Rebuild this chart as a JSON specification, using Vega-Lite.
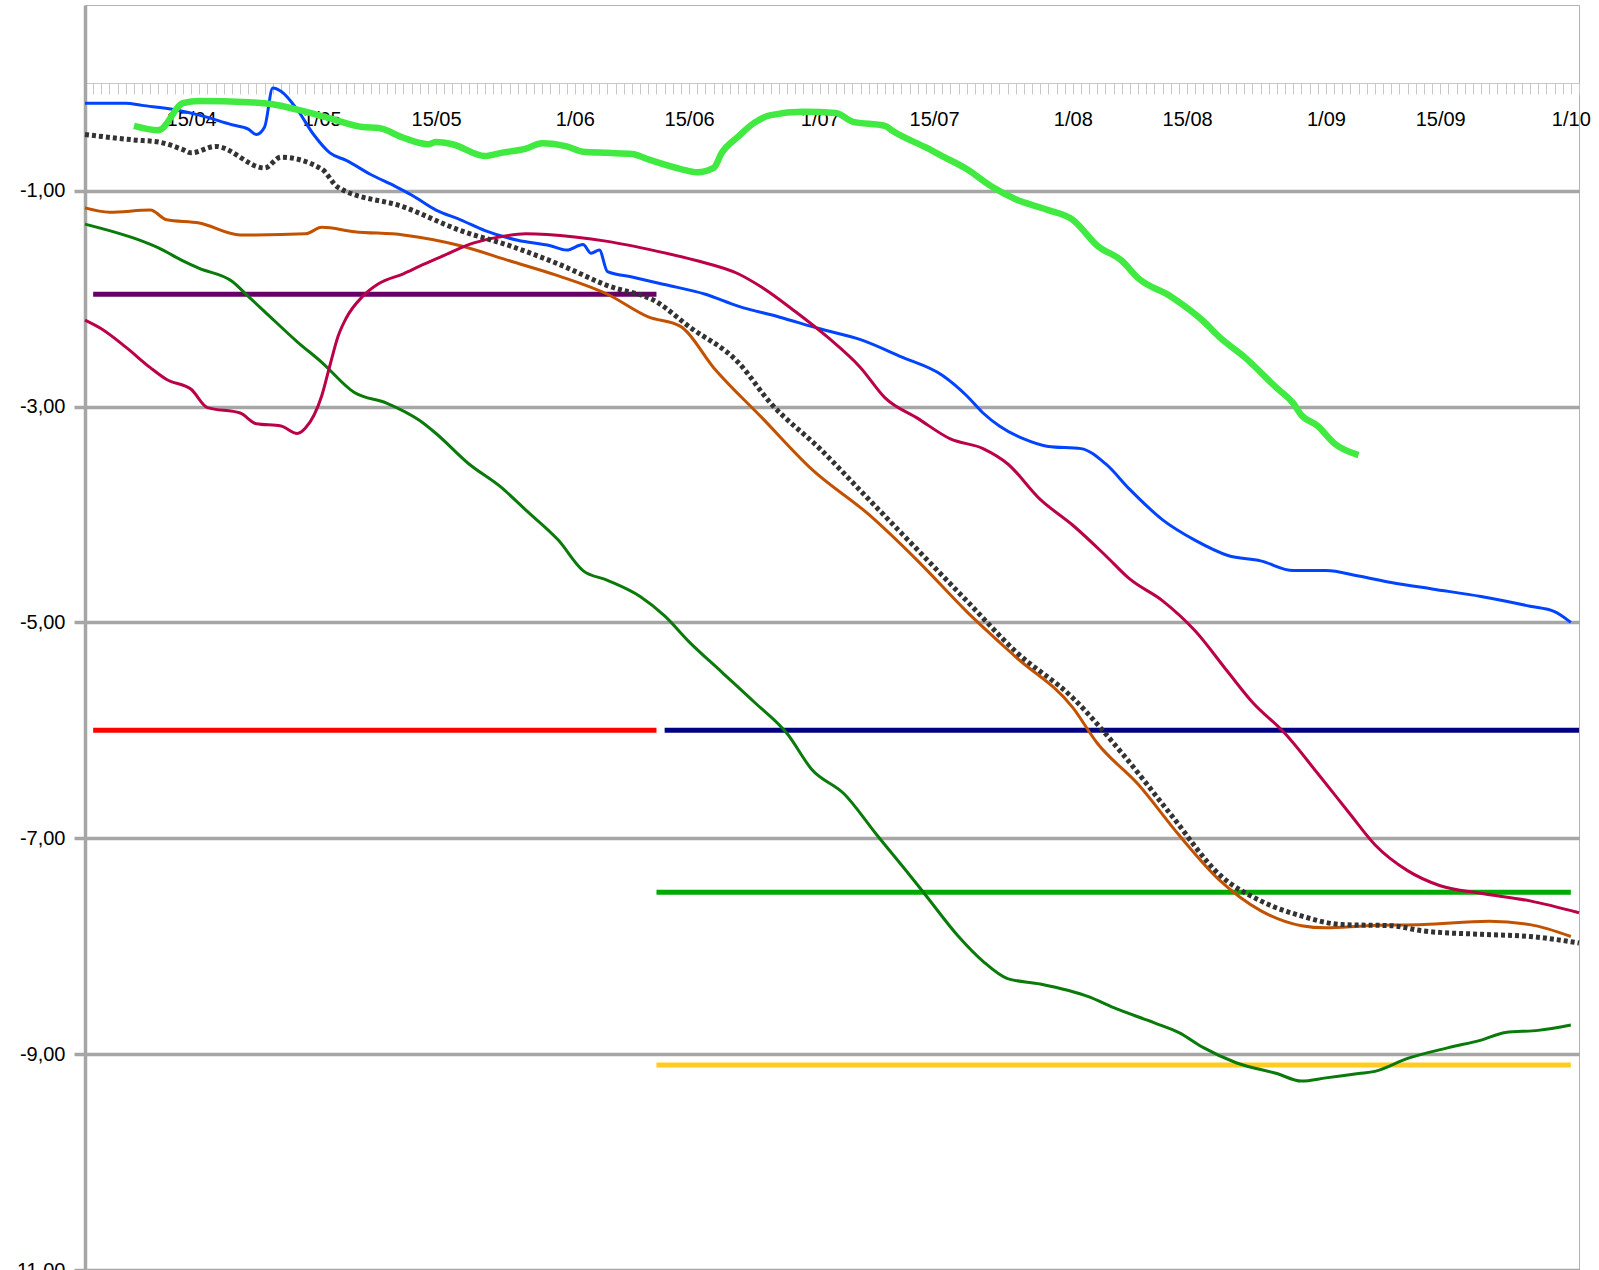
{
  "$schema": "https://vega.github.io/schema/vega-lite/v6.json",
  "width": 1494,
  "height": 1265,
  "autosize": {"type": "none"},
  "padding": {"left": 85, "top": 5, "right": 20, "bottom": 0},
  "background": "white",
  "config": {"view": {"stroke": "#b3b3b3", "strokeWidth": 1}, "font": "Liberation Sans"},
  "data": {"values": [
    {"series":"purple","date":"2023-04-03","date2":"2023-06-11","value":-1.96},
    {"series":"red","date":"2023-04-03","date2":"2023-06-11","value":-6.0},
    {"series":"navy","date":"2023-06-12","date2":"2023-10-02","value":-6.0},
    {"series":"green","date":"2023-06-11","date2":"2023-10-01","value":-7.5},
    {"series":"yellow","date":"2023-06-11","date2":"2023-10-01","value":-9.1},

    {"series":"blue","date":"2023-04-02","value":-0.19},
    {"series":"blue","date":"2023-04-07","value":-0.19},
    {"series":"blue","date":"2023-04-09","value":-0.21},
    {"series":"blue","date":"2023-04-13","value":-0.25},
    {"series":"blue","date":"2023-04-16","value":-0.30},
    {"series":"blue","date":"2023-04-20","value":-0.39},
    {"series":"blue","date":"2023-04-22","value":-0.43},
    {"series":"blue","date":"2023-04-23","value":-0.48},
    {"series":"blue","date":"2023-04-24","value":-0.41},
    {"series":"blue","date":"2023-04-25","value":-0.05},
    {"series":"blue","date":"2023-04-26","value":-0.08},
    {"series":"blue","date":"2023-04-28","value":-0.25},
    {"series":"blue","date":"2023-04-30","value":-0.48},
    {"series":"blue","date":"2023-05-02","value":-0.65},
    {"series":"blue","date":"2023-05-04","value":-0.72},
    {"series":"blue","date":"2023-05-07","value":-0.85},
    {"series":"blue","date":"2023-05-10","value":-0.96},
    {"series":"blue","date":"2023-05-12","value":-1.04},
    {"series":"blue","date":"2023-05-15","value":-1.18},
    {"series":"blue","date":"2023-05-18","value":-1.27},
    {"series":"blue","date":"2023-05-21","value":-1.37},
    {"series":"blue","date":"2023-05-25","value":-1.46},
    {"series":"blue","date":"2023-05-29","value":-1.51},
    {"series":"blue","date":"2023-05-31","value":-1.55},
    {"series":"blue","date":"2023-06-02","value":-1.50},
    {"series":"blue","date":"2023-06-03","value":-1.58},
    {"series":"blue","date":"2023-06-04","value":-1.55},
    {"series":"blue","date":"2023-06-05","value":-1.75},
    {"series":"blue","date":"2023-06-08","value":-1.80},
    {"series":"blue","date":"2023-06-12","value":-1.87},
    {"series":"blue","date":"2023-06-17","value":-1.96},
    {"series":"blue","date":"2023-06-21","value":-2.07},
    {"series":"blue","date":"2023-06-26","value":-2.17},
    {"series":"blue","date":"2023-07-01","value":-2.28},
    {"series":"blue","date":"2023-07-06","value":-2.38},
    {"series":"blue","date":"2023-07-11","value":-2.54},
    {"series":"blue","date":"2023-07-16","value":-2.71},
    {"series":"blue","date":"2023-07-19","value":-2.90},
    {"series":"blue","date":"2023-07-21","value":-3.06},
    {"series":"blue","date":"2023-07-23","value":-3.18},
    {"series":"blue","date":"2023-07-26","value":-3.30},
    {"series":"blue","date":"2023-07-29","value":-3.37},
    {"series":"blue","date":"2023-08-02","value":-3.39},
    {"series":"blue","date":"2023-08-05","value":-3.53},
    {"series":"blue","date":"2023-08-08","value":-3.77},
    {"series":"blue","date":"2023-08-12","value":-4.05},
    {"series":"blue","date":"2023-08-16","value":-4.24},
    {"series":"blue","date":"2023-08-20","value":-4.38},
    {"series":"blue","date":"2023-08-24","value":-4.43},
    {"series":"blue","date":"2023-08-28","value":-4.52},
    {"series":"blue","date":"2023-09-01","value":-4.52},
    {"series":"blue","date":"2023-09-05","value":-4.57},
    {"series":"blue","date":"2023-09-09","value":-4.63},
    {"series":"blue","date":"2023-09-14","value":-4.69},
    {"series":"blue","date":"2023-09-20","value":-4.76},
    {"series":"blue","date":"2023-09-26","value":-4.85},
    {"series":"blue","date":"2023-09-29","value":-4.90},
    {"series":"blue","date":"2023-10-01","value":-5.00},

    {"series":"lightgreen","date":"2023-04-08","value":-0.40},
    {"series":"lightgreen","date":"2023-04-11","value":-0.44},
    {"series":"lightgreen","date":"2023-04-14","value":-0.19},
    {"series":"lightgreen","date":"2023-04-16","value":-0.17},
    {"series":"lightgreen","date":"2023-04-22","value":-0.18},
    {"series":"lightgreen","date":"2023-04-25","value":-0.20},
    {"series":"lightgreen","date":"2023-04-28","value":-0.25},
    {"series":"lightgreen","date":"2023-05-02","value":-0.33},
    {"series":"lightgreen","date":"2023-05-06","value":-0.41},
    {"series":"lightgreen","date":"2023-05-08","value":-0.42},
    {"series":"lightgreen","date":"2023-05-11","value":-0.51},
    {"series":"lightgreen","date":"2023-05-14","value":-0.57},
    {"series":"lightgreen","date":"2023-05-15","value":-0.55},
    {"series":"lightgreen","date":"2023-05-17","value":-0.57},
    {"series":"lightgreen","date":"2023-05-21","value":-0.68},
    {"series":"lightgreen","date":"2023-05-23","value":-0.65},
    {"series":"lightgreen","date":"2023-05-26","value":-0.61},
    {"series":"lightgreen","date":"2023-05-28","value":-0.56},
    {"series":"lightgreen","date":"2023-05-31","value":-0.59},
    {"series":"lightgreen","date":"2023-06-02","value":-0.64},
    {"series":"lightgreen","date":"2023-06-05","value":-0.65},
    {"series":"lightgreen","date":"2023-06-08","value":-0.66},
    {"series":"lightgreen","date":"2023-06-10","value":-0.71},
    {"series":"lightgreen","date":"2023-06-14","value":-0.80},
    {"series":"lightgreen","date":"2023-06-16","value":-0.83},
    {"series":"lightgreen","date":"2023-06-18","value":-0.79},
    {"series":"lightgreen","date":"2023-06-19","value":-0.65},
    {"series":"lightgreen","date":"2023-06-21","value":-0.50},
    {"series":"lightgreen","date":"2023-06-23","value":-0.37},
    {"series":"lightgreen","date":"2023-06-25","value":-0.30},
    {"series":"lightgreen","date":"2023-06-29","value":-0.27},
    {"series":"lightgreen","date":"2023-07-03","value":-0.28},
    {"series":"lightgreen","date":"2023-07-05","value":-0.36},
    {"series":"lightgreen","date":"2023-07-09","value":-0.40},
    {"series":"lightgreen","date":"2023-07-10","value":-0.45},
    {"series":"lightgreen","date":"2023-07-14","value":-0.60},
    {"series":"lightgreen","date":"2023-07-16","value":-0.68},
    {"series":"lightgreen","date":"2023-07-19","value":-0.80},
    {"series":"lightgreen","date":"2023-07-22","value":-0.96},
    {"series":"lightgreen","date":"2023-07-25","value":-1.08},
    {"series":"lightgreen","date":"2023-07-29","value":-1.18},
    {"series":"lightgreen","date":"2023-08-01","value":-1.27},
    {"series":"lightgreen","date":"2023-08-04","value":-1.51},
    {"series":"lightgreen","date":"2023-08-07","value":-1.65},
    {"series":"lightgreen","date":"2023-08-09","value":-1.81},
    {"series":"lightgreen","date":"2023-08-13","value":-1.98},
    {"series":"lightgreen","date":"2023-08-17","value":-2.21},
    {"series":"lightgreen","date":"2023-08-19","value":-2.36},
    {"series":"lightgreen","date":"2023-08-22","value":-2.54},
    {"series":"lightgreen","date":"2023-08-26","value":-2.83},
    {"series":"lightgreen","date":"2023-08-28","value":-2.97},
    {"series":"lightgreen","date":"2023-08-29","value":-3.08},
    {"series":"lightgreen","date":"2023-08-31","value":-3.18},
    {"series":"lightgreen","date":"2023-09-02","value":-3.34},
    {"series":"lightgreen","date":"2023-09-05","value":-3.45},

    {"series":"black","date":"2023-04-02","value":-0.48},
    {"series":"black","date":"2023-04-08","value":-0.53},
    {"series":"black","date":"2023-04-11","value":-0.55},
    {"series":"black","date":"2023-04-14","value":-0.62},
    {"series":"black","date":"2023-04-15","value":-0.65},
    {"series":"black","date":"2023-04-18","value":-0.59},
    {"series":"black","date":"2023-04-24","value":-0.79},
    {"series":"black","date":"2023-04-26","value":-0.69},
    {"series":"black","date":"2023-05-01","value":-0.80},
    {"series":"black","date":"2023-05-03","value":-0.97},
    {"series":"black","date":"2023-05-11","value":-1.15},
    {"series":"black","date":"2023-05-18","value":-1.37},
    {"series":"black","date":"2023-05-24","value":-1.51},
    {"series":"black","date":"2023-05-30","value":-1.68},
    {"series":"black","date":"2023-06-05","value":-1.88},
    {"series":"black","date":"2023-06-11","value":-2.03},
    {"series":"black","date":"2023-06-15","value":-2.26},
    {"series":"black","date":"2023-06-21","value":-2.59},
    {"series":"black","date":"2023-06-25","value":-2.97},
    {"series":"black","date":"2023-07-01","value":-3.39},
    {"series":"black","date":"2023-07-07","value":-3.86},
    {"series":"black","date":"2023-07-13","value":-4.33},
    {"series":"black","date":"2023-07-19","value":-4.80},
    {"series":"black","date":"2023-07-25","value":-5.27},
    {"series":"black","date":"2023-08-01","value":-5.70},
    {"series":"black","date":"2023-08-07","value":-6.21},
    {"series":"black","date":"2023-08-13","value":-6.78},
    {"series":"black","date":"2023-08-19","value":-7.34},
    {"series":"black","date":"2023-08-24","value":-7.58},
    {"series":"black","date":"2023-08-29","value":-7.72},
    {"series":"black","date":"2023-09-03","value":-7.80},
    {"series":"black","date":"2023-09-09","value":-7.81},
    {"series":"black","date":"2023-09-13","value":-7.86},
    {"series":"black","date":"2023-09-20","value":-7.89},
    {"series":"black","date":"2023-09-26","value":-7.91},
    {"series":"black","date":"2023-10-02","value":-7.97},

    {"series":"orange","date":"2023-04-02","value":-1.16},
    {"series":"orange","date":"2023-04-05","value":-1.20},
    {"series":"orange","date":"2023-04-10","value":-1.18},
    {"series":"orange","date":"2023-04-12","value":-1.27},
    {"series":"orange","date":"2023-04-16","value":-1.30},
    {"series":"orange","date":"2023-04-21","value":-1.41},
    {"series":"orange","date":"2023-04-23","value":-1.41},
    {"series":"orange","date":"2023-04-29","value":-1.40},
    {"series":"orange","date":"2023-05-01","value":-1.34},
    {"series":"orange","date":"2023-05-05","value":-1.38},
    {"series":"orange","date":"2023-05-11","value":-1.41},
    {"series":"orange","date":"2023-05-18","value":-1.51},
    {"series":"orange","date":"2023-05-24","value":-1.65},
    {"series":"orange","date":"2023-05-30","value":-1.79},
    {"series":"orange","date":"2023-06-05","value":-1.96},
    {"series":"orange","date":"2023-06-10","value":-2.17},
    {"series":"orange","date":"2023-06-14","value":-2.26},
    {"series":"orange","date":"2023-06-18","value":-2.64},
    {"series":"orange","date":"2023-06-24","value":-3.11},
    {"series":"orange","date":"2023-06-30","value":-3.58},
    {"series":"orange","date":"2023-07-07","value":-4.00},
    {"series":"orange","date":"2023-07-13","value":-4.43},
    {"series":"orange","date":"2023-07-19","value":-4.90},
    {"series":"orange","date":"2023-07-25","value":-5.32},
    {"series":"orange","date":"2023-08-01","value":-5.79},
    {"series":"orange","date":"2023-08-04","value":-6.12},
    {"series":"orange","date":"2023-08-09","value":-6.50},
    {"series":"orange","date":"2023-08-14","value":-6.97},
    {"series":"orange","date":"2023-08-19","value":-7.39},
    {"series":"orange","date":"2023-08-24","value":-7.67},
    {"series":"orange","date":"2023-08-29","value":-7.81},
    {"series":"orange","date":"2023-09-01","value":-7.83},
    {"series":"orange","date":"2023-09-06","value":-7.81},
    {"series":"orange","date":"2023-09-13","value":-7.80},
    {"series":"orange","date":"2023-09-21","value":-7.77},
    {"series":"orange","date":"2023-09-26","value":-7.80},
    {"series":"orange","date":"2023-10-01","value":-7.91},

    {"series":"darkgreen","date":"2023-04-02","value":-1.31},
    {"series":"darkgreen","date":"2023-04-05","value":-1.37},
    {"series":"darkgreen","date":"2023-04-08","value":-1.44},
    {"series":"darkgreen","date":"2023-04-11","value":-1.53},
    {"series":"darkgreen","date":"2023-04-14","value":-1.65},
    {"series":"darkgreen","date":"2023-04-16","value":-1.72},
    {"series":"darkgreen","date":"2023-04-20","value":-1.84},
    {"series":"darkgreen","date":"2023-04-22","value":-1.98},
    {"series":"darkgreen","date":"2023-04-24","value":-2.12},
    {"series":"darkgreen","date":"2023-04-28","value":-2.40},
    {"series":"darkgreen","date":"2023-05-01","value":-2.59},
    {"series":"darkgreen","date":"2023-05-05","value":-2.87},
    {"series":"darkgreen","date":"2023-05-09","value":-2.97},
    {"series":"darkgreen","date":"2023-05-13","value":-3.13},
    {"series":"darkgreen","date":"2023-05-15","value":-3.25},
    {"series":"darkgreen","date":"2023-05-19","value":-3.53},
    {"series":"darkgreen","date":"2023-05-23","value":-3.75},
    {"series":"darkgreen","date":"2023-05-26","value":-3.96},
    {"series":"darkgreen","date":"2023-05-30","value":-4.24},
    {"series":"darkgreen","date":"2023-06-02","value":-4.52},
    {"series":"darkgreen","date":"2023-06-05","value":-4.61},
    {"series":"darkgreen","date":"2023-06-09","value":-4.76},
    {"series":"darkgreen","date":"2023-06-12","value":-4.94},
    {"series":"darkgreen","date":"2023-06-15","value":-5.18},
    {"series":"darkgreen","date":"2023-06-19","value":-5.46},
    {"series":"darkgreen","date":"2023-06-23","value":-5.74},
    {"series":"darkgreen","date":"2023-06-27","value":-6.03},
    {"series":"darkgreen","date":"2023-06-30","value":-6.36},
    {"series":"darkgreen","date":"2023-07-04","value":-6.59},
    {"series":"darkgreen","date":"2023-07-08","value":-6.97},
    {"series":"darkgreen","date":"2023-07-12","value":-7.34},
    {"series":"darkgreen","date":"2023-07-14","value":-7.53},
    {"series":"darkgreen","date":"2023-07-18","value":-7.91},
    {"series":"darkgreen","date":"2023-07-21","value":-8.14},
    {"series":"darkgreen","date":"2023-07-24","value":-8.30},
    {"series":"darkgreen","date":"2023-07-28","value":-8.35},
    {"series":"darkgreen","date":"2023-08-03","value":-8.47},
    {"series":"darkgreen","date":"2023-08-06","value":-8.57},
    {"series":"darkgreen","date":"2023-08-11","value":-8.71},
    {"series":"darkgreen","date":"2023-08-14","value":-8.80},
    {"series":"darkgreen","date":"2023-08-17","value":-8.94},
    {"series":"darkgreen","date":"2023-08-21","value":-9.08},
    {"series":"darkgreen","date":"2023-08-26","value":-9.18},
    {"series":"darkgreen","date":"2023-08-29","value":-9.25},
    {"series":"darkgreen","date":"2023-09-01","value":-9.22},
    {"series":"darkgreen","date":"2023-09-05","value":-9.18},
    {"series":"darkgreen","date":"2023-09-07","value":-9.16},
    {"series":"darkgreen","date":"2023-09-11","value":-9.04},
    {"series":"darkgreen","date":"2023-09-16","value":-8.94},
    {"series":"darkgreen","date":"2023-09-20","value":-8.87},
    {"series":"darkgreen","date":"2023-09-23","value":-8.80},
    {"series":"darkgreen","date":"2023-09-27","value":-8.78},
    {"series":"darkgreen","date":"2023-10-01","value":-8.73},

    {"series":"crimson","date":"2023-04-02","value":-2.20},
    {"series":"crimson","date":"2023-04-04","value":-2.28},
    {"series":"crimson","date":"2023-04-07","value":-2.45},
    {"series":"crimson","date":"2023-04-10","value":-2.64},
    {"series":"crimson","date":"2023-04-12","value":-2.75},
    {"series":"crimson","date":"2023-04-15","value":-2.84},
    {"series":"crimson","date":"2023-04-17","value":-3.01},
    {"series":"crimson","date":"2023-04-21","value":-3.06},
    {"series":"crimson","date":"2023-04-23","value":-3.16},
    {"series":"crimson","date":"2023-04-26","value":-3.18},
    {"series":"crimson","date":"2023-04-28","value":-3.25},
    {"series":"crimson","date":"2023-04-29","value":-3.20},
    {"series":"crimson","date":"2023-05-01","value":-2.90},
    {"series":"crimson","date":"2023-05-02","value":-2.62},
    {"series":"crimson","date":"2023-05-03","value":-2.35},
    {"series":"crimson","date":"2023-05-04","value":-2.18},
    {"series":"crimson","date":"2023-05-06","value":-1.98},
    {"series":"crimson","date":"2023-05-08","value":-1.86},
    {"series":"crimson","date":"2023-05-11","value":-1.77},
    {"series":"crimson","date":"2023-05-13","value":-1.70},
    {"series":"crimson","date":"2023-05-16","value":-1.60},
    {"series":"crimson","date":"2023-05-19","value":-1.50},
    {"series":"crimson","date":"2023-05-22","value":-1.44},
    {"series":"crimson","date":"2023-05-26","value":-1.40},
    {"series":"crimson","date":"2023-06-01","value":-1.43},
    {"series":"crimson","date":"2023-06-05","value":-1.47},
    {"series":"crimson","date":"2023-06-11","value":-1.56},
    {"series":"crimson","date":"2023-06-16","value":-1.65},
    {"series":"crimson","date":"2023-06-21","value":-1.77},
    {"series":"crimson","date":"2023-06-24","value":-1.90},
    {"series":"crimson","date":"2023-06-28","value":-2.12},
    {"series":"crimson","date":"2023-07-02","value":-2.36},
    {"series":"crimson","date":"2023-07-06","value":-2.64},
    {"series":"crimson","date":"2023-07-09","value":-2.92},
    {"series":"crimson","date":"2023-07-13","value":-3.11},
    {"series":"crimson","date":"2023-07-17","value":-3.30},
    {"series":"crimson","date":"2023-07-21","value":-3.39},
    {"series":"crimson","date":"2023-07-24","value":-3.53},
    {"series":"crimson","date":"2023-07-28","value":-3.86},
    {"series":"crimson","date":"2023-08-01","value":-4.10},
    {"series":"crimson","date":"2023-08-05","value":-4.38},
    {"series":"crimson","date":"2023-08-08","value":-4.60},
    {"series":"crimson","date":"2023-08-12","value":-4.80},
    {"series":"crimson","date":"2023-08-16","value":-5.08},
    {"series":"crimson","date":"2023-08-20","value":-5.46},
    {"series":"crimson","date":"2023-08-23","value":-5.74},
    {"series":"crimson","date":"2023-08-27","value":-6.03},
    {"series":"crimson","date":"2023-08-31","value":-6.40},
    {"series":"crimson","date":"2023-09-04","value":-6.78},
    {"series":"crimson","date":"2023-09-07","value":-7.06},
    {"series":"crimson","date":"2023-09-11","value":-7.30},
    {"series":"crimson","date":"2023-09-15","value":-7.44},
    {"series":"crimson","date":"2023-09-20","value":-7.51},
    {"series":"crimson","date":"2023-09-26","value":-7.58},
    {"series":"crimson","date":"2023-10-02","value":-7.69}
  ]},
  "encoding": {
    "x": {
      "field": "date", "type": "temporal",
      "scale": {"type": "utc", "nice": false,
        "domain": [{"year": 2023, "month": 4, "date": 2, "utc": true}, {"year": 2023, "month": 10, "date": 2, "utc": true}]},
      "axis": {
        "orient": "bottom", "offset": -1187, "title": null,
        "tickCount": {"interval": "day", "step": 1},
        "labelExpr": "(utcdate(datum.value) == 1 || utcdate(datum.value) == 15) ? utcFormat(datum.value, '%-d/%m') : ''",
        "labelOverlap": false, "labelFlush": false, "labelBound": false,
        "labelFontSize": 20, "labelFont": "Liberation Sans", "labelColor": "#000000",
        "labelBaseline": "middle", "labelPadding": 25,
        "tickSize": 11, "tickColor": "#c8c8c8", "tickWidth": 1,
        "domainColor": "#c8c8c8", "domainWidth": 1, "grid": false, "zindex": 0
      }
    },
    "y": {
      "field": "value", "type": "quantitative",
      "scale": {"domain": [-11, 0.72], "nice": false, "zero": false},
      "axis": {
        "orient": "left", "title": null, "values": [-11, -9, -7, -5, -3, -1],
        "labelExpr": "(datum.value < 0 ? '-' : '') + replace(format(abs(datum.value), '.2f'), '.', ',')",
        "labelFontSize": 20, "labelFont": "Liberation Sans", "labelColor": "#000000", "labelPadding": 9,
        "tickSize": 11, "tickWidth": 3.5, "tickColor": "#a6a6a6",
        "domainColor": "#a6a6a6", "domainWidth": 3.5,
        "grid": true, "gridColor": "#a6a6a6", "gridWidth": 3.5, "zindex": 0
      }
    },
    "color": {
      "field": "series", "type": "nominal", "legend": null,
      "scale": {
        "domain": ["purple", "red", "navy", "green", "yellow", "blue", "lightgreen", "black", "orange", "darkgreen", "crimson"],
        "range": ["#660066", "#ff0000", "#000080", "#00aa00", "#ffcc22", "#0044ff", "#40ea40", "#333333", "#c35200", "#0a7a0a", "#bb0048"]
      }
    }
  },
  "layer": [
    {
      "data": {"values": [{"series": "frame"}]},
      "mark": {"type": "rect", "filled": false, "strokeWidth": 1, "clip": false},
      "encoding": {
        "x": {"datum": {"year": 2023, "month": 3, "date": 21, "utc": true}, "type": "temporal"},
        "x2": {"datum": {"year": 2023, "month": 9, "date": 27, "hours": 7, "utc": true}},
        "y": {"datum": 0.73, "type": "quantitative"},
        "y2": {"datum": 0.9},
        "color": {"value": "#505050"}
      }
    },
    {
      "transform": [{"filter": "datum.date2 != null"}],
      "mark": {"type": "rule", "strokeWidth": 5},
      "encoding": {"x2": {"field": "date2"}}
    },
    {
      "transform": [{"filter": "indexof(['blue','orange','darkgreen','crimson'], datum.series) >= 0"}],
      "mark": {"type": "line", "strokeWidth": 3, "interpolate": "monotone"}
    },
    {
      "transform": [{"filter": "datum.series == 'lightgreen'"}],
      "mark": {"type": "line", "strokeWidth": 6.5, "interpolate": "monotone", "strokeCap": "butt"}
    },
    {
      "transform": [{"filter": "datum.series == 'black'"}],
      "mark": {"type": "line", "strokeWidth": 5, "strokeDash": [4, 3], "interpolate": "monotone"}
    }
  ]
}
